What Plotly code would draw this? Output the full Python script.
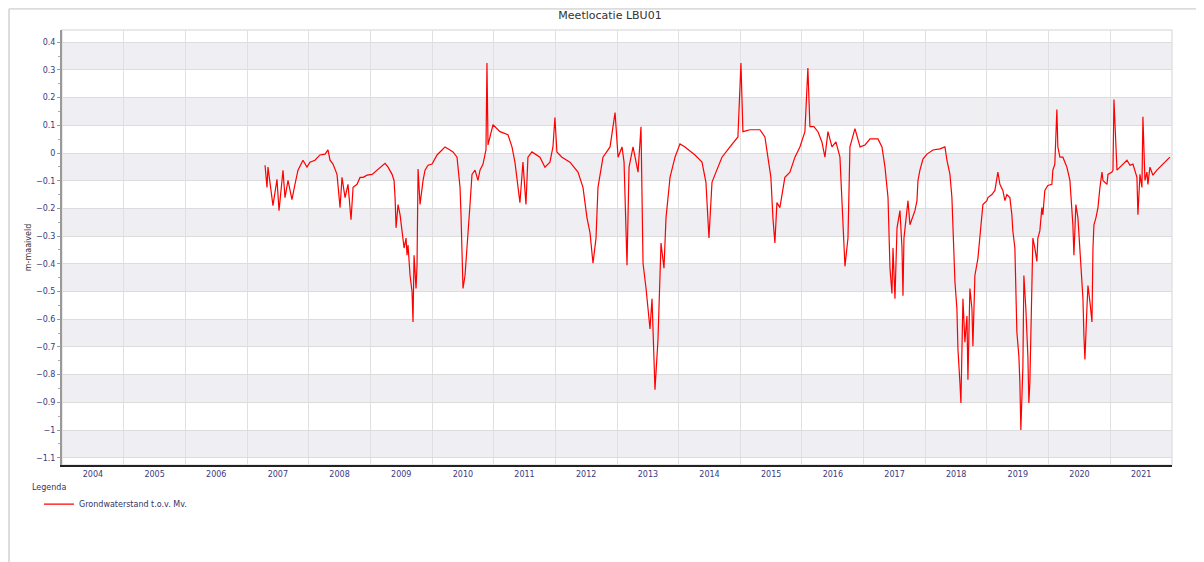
import pandas as pd
import plotly.graph_objects as go

# ---- data ----
# decimal years
years_dec = [
 2007.292, 2007.324, 2007.340, 2007.421, 2007.486, 2007.519, 2007.584, 2007.616, 2007.665, 2007.729,
 2007.778, 2007.827, 2007.908, 2007.973, 2008.021, 2008.102, 2008.183, 2008.265, 2008.313, 2008.346,
 2008.394, 2008.459, 2008.508, 2008.540, 2008.589, 2008.637, 2008.686, 2008.719, 2008.783, 2008.832,
 2008.881, 2008.946, 2009.027, 2009.108, 2009.189, 2009.237, 2009.286, 2009.351, 2009.383, 2009.400,
 2009.416, 2009.448, 2009.481, 2009.513, 2009.546, 2009.578, 2009.594, 2009.610, 2009.643, 2009.675,
 2009.691, 2009.708, 2009.740, 2009.756, 2009.773, 2009.805, 2009.837, 2009.854, 2009.886, 2009.935,
 2010.000, 2010.081, 2010.162, 2010.210, 2010.291, 2010.340, 2010.405, 2010.421, 2010.454, 2010.470,
 2010.486, 2010.502, 2010.535, 2010.567, 2010.583, 2010.616, 2010.648, 2010.697, 2010.745, 2010.778,
 2010.827, 2010.875, 2010.891, 2010.908, 2010.989, 2011.102, 2011.232, 2011.297, 2011.345, 2011.394,
 2011.426, 2011.475, 2011.524, 2011.556, 2011.621, 2011.751, 2011.832, 2011.913, 2011.962, 2011.994,
 2012.026, 2012.108, 2012.237, 2012.367, 2012.448, 2012.513, 2012.562, 2012.610, 2012.659, 2012.691,
 2012.772, 2012.886, 2012.967, 2013.016, 2013.080, 2013.113, 2013.161, 2013.194, 2013.259, 2013.340,
 2013.388, 2013.421, 2013.470, 2013.534, 2013.567, 2013.615, 2013.664, 2013.713, 2013.761, 2013.794,
 2013.859, 2013.940, 2014.021, 2014.102, 2014.264, 2014.378, 2014.442, 2014.491, 2014.540, 2014.605,
 2014.702, 2014.832, 2014.961, 2015.010, 2015.042, 2015.156, 2015.318, 2015.399, 2015.448, 2015.496,
 2015.529, 2015.561, 2015.594, 2015.642, 2015.723, 2015.805, 2015.886, 2015.967, 2016.048, 2016.096,
 2016.129, 2016.194, 2016.259, 2016.323, 2016.372, 2016.421, 2016.486, 2016.550, 2016.615, 2016.664,
 2016.696, 2016.745, 2016.777, 2016.858, 2016.940, 2017.021, 2017.102, 2017.231, 2017.296, 2017.345,
 2017.394, 2017.426, 2017.458, 2017.475, 2017.507, 2017.540, 2017.588, 2017.621, 2017.637, 2017.653,
 2017.686, 2017.718, 2017.750, 2017.799, 2017.831, 2017.864, 2017.880, 2017.912, 2017.961, 2018.026,
 2018.123, 2018.237, 2018.318, 2018.350, 2018.399, 2018.431, 2018.448, 2018.480, 2018.512, 2018.529,
 2018.561, 2018.577, 2018.610, 2018.642, 2018.675, 2018.691, 2018.723, 2018.756, 2018.772, 2018.804,
 2018.853, 2018.885, 2018.918, 2018.934, 2018.999, 2019.015, 2019.080, 2019.129, 2019.177, 2019.210,
 2019.258, 2019.291, 2019.323, 2019.372, 2019.404, 2019.420, 2019.453, 2019.469, 2019.485, 2019.518,
 2019.534, 2019.550, 2019.583, 2019.599, 2019.631, 2019.664, 2019.680, 2019.696, 2019.729, 2019.745,
 2019.777, 2019.810, 2019.826, 2019.858, 2019.891, 2019.907, 2019.939, 2019.988, 2020.053, 2020.069,
 2020.101, 2020.134, 2020.150, 2020.183, 2020.231, 2020.296, 2020.345, 2020.377, 2020.393, 2020.410,
 2020.442, 2020.475, 2020.507, 2020.539, 2020.556, 2020.572, 2020.588, 2020.620, 2020.637, 2020.669,
 2020.702, 2020.718, 2020.734, 2020.766, 2020.799, 2020.831, 2020.864, 2020.880, 2020.945, 2020.961,
 2021.026, 2021.042, 2021.058, 2021.107, 2021.155, 2021.204, 2021.269, 2021.318, 2021.366, 2021.431,
 2021.447, 2021.480, 2021.512, 2021.528, 2021.561, 2021.593, 2021.609, 2021.642, 2021.690, 2021.755,
 2021.804, 2021.853, 2021.917, 2021.966,
]

levels = [
 -0.044, -0.124, -0.051, -0.190, -0.095, -0.208, -0.062, -0.161, -0.099, -0.168,
 -0.113, -0.062, -0.026, -0.051, -0.033, -0.026, -0.007, -0.004, 0.011, -0.026,
 -0.040, -0.077, -0.197, -0.088, -0.161, -0.113, -0.241, -0.124, -0.113, -0.088,
 -0.088, -0.080, -0.077, -0.062, -0.044, -0.037, -0.051, -0.077, -0.099, -0.161,
 -0.270, -0.186, -0.223, -0.281, -0.343, -0.307, -0.369, -0.332, -0.442, -0.500,
 -0.610, -0.369, -0.489, -0.405, -0.058, -0.186, -0.124, -0.099, -0.062, -0.044,
 -0.040, -0.007, 0.011, 0.022, 0.011, 0.004, -0.015, -0.051, -0.124, -0.223,
 -0.343, -0.489, -0.442, -0.354, -0.296, -0.186, -0.077, -0.062, -0.099, -0.062,
 -0.040, 0.011, 0.325, 0.029, 0.102, 0.077, 0.066, 0.022, -0.033, -0.124,
 -0.179, -0.033, -0.186, -0.015, 0.004, -0.015, -0.051, -0.033, 0.022, 0.128,
 0.004, -0.015, -0.033, -0.069, -0.124, -0.234, -0.288, -0.398, -0.307, -0.124,
 -0.015, 0.022, 0.146, -0.015, 0.022, -0.033, -0.405, -0.051, 0.022, -0.069,
 0.095, -0.398, -0.489, -0.635, -0.526, -0.854, -0.672, -0.325, -0.416, -0.234,
 -0.088, -0.015, 0.033, 0.022, -0.007, -0.033, -0.106, -0.307, -0.106, -0.069,
 -0.015, 0.022, 0.058, 0.325, 0.077, 0.084, 0.084, 0.058, -0.015, -0.088,
 -0.234, -0.325, -0.179, -0.197, -0.088, -0.069, -0.015, 0.022, 0.077, 0.307,
 0.095, 0.095, 0.077, 0.040, -0.015, 0.077, 0.022, 0.040, -0.015, -0.270,
 -0.409, -0.307, 0.022, 0.088, 0.022, 0.029, 0.051, 0.051, 0.022, -0.051,
 -0.161, -0.416, -0.507, -0.343, -0.526, -0.270, -0.208, -0.343, -0.515, -0.307,
 -0.223, -0.172, -0.259, -0.223, -0.208, -0.172, -0.099, -0.062, -0.022, -0.004,
 0.011, 0.015, 0.022, -0.026, -0.077, -0.161, -0.281, -0.464, -0.562, -0.708,
 -0.829, -0.902, -0.526, -0.683, -0.588, -0.818, -0.489, -0.562, -0.697, -0.442,
 -0.380, -0.296, -0.223, -0.186, -0.172, -0.161, -0.150, -0.135, -0.069, -0.113,
 -0.135, -0.172, -0.150, -0.161, -0.223, -0.281, -0.343, -0.464, -0.646, -0.734,
 -0.829, -1.000, -0.770, -0.442, -0.562, -0.734, -0.902, -0.829, -0.453, -0.307,
 -0.343, -0.391, -0.307, -0.281, -0.197, -0.223, -0.135, -0.117, -0.113, -0.062,
 -0.040, 0.157, 0.022, -0.015, -0.015, -0.051, -0.099, -0.186, -0.259, -0.369,
 -0.186, -0.234, -0.354, -0.442, -0.526, -0.661, -0.745, -0.562, -0.478, -0.537,
 -0.610, -0.343, -0.259, -0.234, -0.197, -0.124, -0.069, -0.099, -0.113, -0.077,
 -0.069, -0.062, 0.193, -0.062, -0.051, -0.040, -0.026, -0.044, -0.040, -0.088,
 -0.223, -0.077, -0.124, 0.131, -0.099, -0.069, -0.113, -0.051, -0.080, -0.062,
 -0.051, -0.040, -0.026, -0.015,
]

title_text = "Meetlocatie LBU01"
y_title = "m-maaiveld"
series_name = "Grondwaterstand t.o.v. Mv."
legend_title = "Legenda"
band_edges = [(0.3, 0.4), (0.1, 0.2), (-0.1, 0.0), (-0.3, -0.2),
              (-0.5, -0.4), (-0.7, -0.6), (-0.9, -0.8), (-1.1, -1.0)]


def dec_to_ts(d):
    y = int(d)
    start = pd.Timestamp(year=y, month=1, day=1)
    end = pd.Timestamp(year=y + 1, month=1, day=1)
    return start + (end - start) * (d - y)


dates = [dec_to_ts(d) for d in years_dec]

fig = go.Figure()
fig.add_trace(go.Scatter(
    x=dates, y=levels, mode="lines", name=series_name,
    line=dict(color="#ff0000", width=1.2), showlegend=True,
))

shapes = []
for lo, hi in band_edges:
    shapes.append(dict(type="rect", xref="paper", yref="y", x0=0, x1=1, y0=lo, y1=hi,
                       fillcolor="#eeeef3", line=dict(width=0), layer="below"))
# plot-area frame
shapes.append(dict(type="rect", xref="paper", yref="paper", x0=0, x1=1, y0=0, y1=1,
                   line=dict(color="#e2e2e2", width=1.5), fillcolor="rgba(0,0,0,0)", layer="below"))
# outer frame lines (top and left)
shapes.append(dict(type="line", xref="paper", yref="paper", x0=-0.0477, x1=1.04, y0=1.049, y1=1.049,
                   line=dict(color="#dcdcdc", width=2)))
shapes.append(dict(type="line", xref="paper", yref="paper", x0=-0.0477, x1=-0.0477, y0=1.049, y1=-0.25,
                   line=dict(color="#dcdcdc", width=2)))

fig.update_layout(
    width=1204, height=562,
    margin=dict(l=54, r=40, t=22, b=105, autoexpand=False),
    paper_bgcolor="white", plot_bgcolor="white",
    title=dict(text=title_text, x=0.5, xanchor="center", y=0.988, yanchor="middle",
               font=dict(family="DejaVu Sans", size=11, color="#333333")),
    shapes=shapes,
    annotations=[dict(text=legend_title, xref="paper", yref="paper", x=-0.0288, y=-0.052,
                      xanchor="left", yanchor="middle", showarrow=False,
                      font=dict(family="DejaVu Sans", size=8, color="#333366"))],
    showlegend=True,
    legend=dict(x=-0.0207, xanchor="left", y=-0.0565, yanchor="top",
                font=dict(family="DejaVu Sans", size=8, color="#333366"),
                bgcolor="rgba(0,0,0,0)", itemwidth=30, tracegroupgap=0),
    font=dict(family="DejaVu Sans", size=8, color="#3a3a80"),
)

fig.update_xaxes(
    type="date", range=["2004-01-01", "2022-01-01"],
    tick0="2004-01-01", dtick="M12", tickformat="%Y", ticklabelmode="period",
    showgrid=True, gridcolor="#e0e0e0", gridwidth=1.2,
    showline=True, linecolor="#222222", linewidth=2,
    ticks="", tickfont=dict(size=8, color="#3a3a80"), zeroline=False, automargin=False,
)
fig.update_yaxes(
    range=[-1.126, 0.444], tick0=0, dtick=0.1, tickformat="~g",
    showgrid=True, gridcolor="#dcdcdc", gridwidth=1,
    showline=True, linecolor="#999999", linewidth=2,
    ticks="outside", ticklen=3, tickcolor="#999999",
    minor=dict(dtick=0.05, ticks="outside", ticklen=2, tickcolor="#aaaaaa", showgrid=False),
    tickfont=dict(size=8, color="#3a3a80"), zeroline=False, automargin=False,
    title=dict(text=y_title, font=dict(size=8, color="#333333"), standoff=3),
)

fig.write_html("out.html")
